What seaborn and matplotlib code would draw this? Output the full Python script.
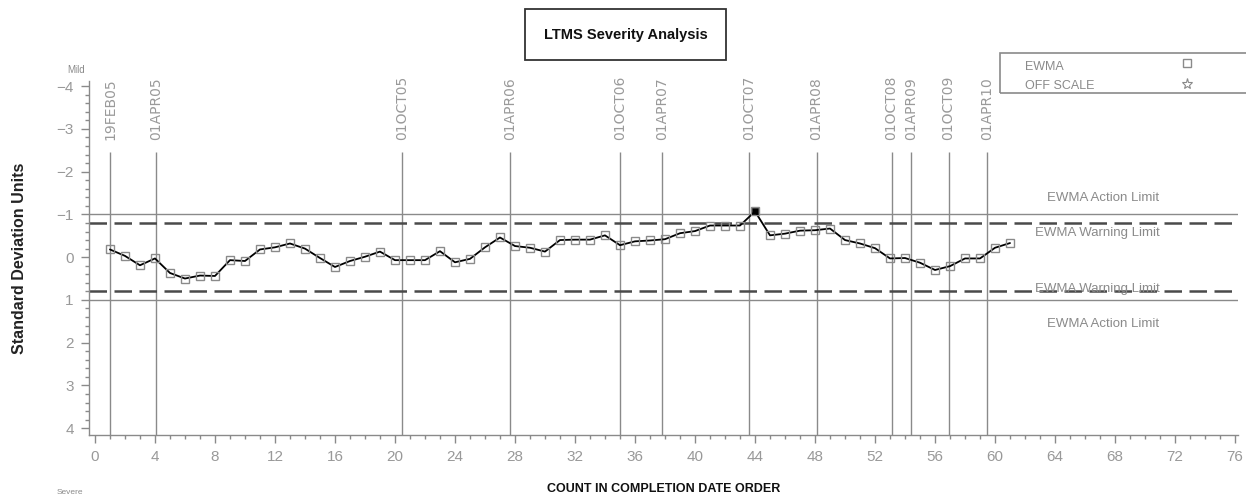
import numpy as np
import pandas as pd
import matplotlib
matplotlib.use('Agg')
import matplotlib.pyplot as plt
import seaborn as sns
from matplotlib.patches import Rectangle
from matplotlib.lines import Line2D
from matplotlib.ticker import MultipleLocator

# EWMA values per test, in completion-date order
count = list(range(1, 62))
ewma = [-0.18, -0.03, 0.19, 0.03, 0.37, 0.50, 0.43, 0.44, 0.07, 0.09,
        -0.18, -0.23, -0.32, -0.20, 0.02, 0.23, 0.09, -0.01, -0.13, 0.07,
        0.07, 0.07, -0.14, 0.12, 0.04, -0.23, -0.46, -0.26, -0.22, -0.13,
        -0.40, -0.41, -0.41, -0.51, -0.28, -0.37, -0.39, -0.42, -0.56, -0.61,
        -0.74, -0.74, -0.74, -1.07, -0.51, -0.55, -0.62, -0.63, -0.67, -0.40,
        -0.32, -0.21, 0.03, 0.02, 0.13, 0.30, 0.21, 0.03, 0.03, -0.22, -0.33]
off_scale = [44]  # points beyond the action limit

# date reference lines
date_labels = ['19FEB05', '01APR05', '01OCT05', '01APR06', '01OCT06', '01APR07',
               '01OCT07', '01APR08', '01OCT08', '01APR09', '01OCT09', '01APR10']
date_pos = [1.0, 4.1, 20.5, 27.7, 35.0, 37.8, 43.6, 48.1, 53.1, 54.4, 56.9, 59.45]

action_limit = 1.0
warning_limit = 0.79

narrow = ['Liberation Sans Narrow', 'Liberation Sans', 'DejaVu Sans']
gray = '#8a8a8a'

sns.set_theme(style='ticks')
plt.rcParams['font.family'] = narrow

fig = plt.figure(figsize=(12.46, 4.97), dpi=100)
ax = fig.add_axes([0.0714, 0.1247, 0.9222, 0.7123])

df = pd.DataFrame({'count': count, 'ewma': ewma})
sns.lineplot(data=df, x='count', y='ewma', ax=ax, color='black', lw=1.3,
             marker='s', markersize=6, markerfacecolor='none',
             markeredgecolor=gray, markeredgewidth=1, zorder=4)

off = df[df['count'].isin(off_scale)]
sns.scatterplot(data=off, x='count', y='ewma', ax=ax, marker='s', color='black',
                s=22, edgecolor='black', zorder=5)

# control limits
for sign in (-1, 1):
    ax.axhline(sign * action_limit, color=gray, lw=1, zorder=2)
    ax.axhline(sign * warning_limit, color='#4a4a4a', lw=1.8, dashes=(7, 3), zorder=2)

lim_kw = dict(color=gray, fontsize=9.5, ha='center', va='center')
ax.text(67.2, -1.38, 'EWMA Action Limit', **lim_kw)
ax.text(66.8, -0.56, 'EWMA Warning Limit', **lim_kw)
ax.text(66.8, 0.75, 'EWMA Warning Limit', **lim_kw)
ax.text(67.2, 1.57, 'EWMA Action Limit', **lim_kw)

# date markers
ax.vlines(date_pos, ymin=-2.45, ymax=4.2, color=gray, lw=1, zorder=1)
for pos, lab in zip(date_pos, date_labels):
    ax.text(pos, -2.75, lab, rotation=90, ha='center', va='bottom',
            color='#9a9a9a', fontsize=10, family='DejaVu Sans')

ax.set_xlim(-0.4, 76.2)
ax.set_ylim(4.16, -4.12)
ax.xaxis.set_major_locator(MultipleLocator(4))
ax.xaxis.set_minor_locator(MultipleLocator(1))
ax.yaxis.set_major_locator(MultipleLocator(1))
ax.yaxis.set_minor_locator(MultipleLocator(0.2))

sns.despine(ax=ax)
for side in ('left', 'bottom'):
    ax.spines[side].set_color(gray)
    ax.spines[side].set_linewidth(1)
ax.tick_params(which='major', length=6, width=1, color=gray, labelcolor='#999999',
               labelsize=11, pad=5)
ax.tick_params(which='minor', length=3, width=1, color=gray)

ax.set_xlabel('COUNT IN COMPLETION DATE ORDER', fontsize=9, fontweight='bold', color='#111111')
ax.xaxis.set_label_coords(0.5, -0.135)
ax.set_ylabel('Standard Deviation Units', fontsize=11.5, fontweight='bold', color='#222222')
ax.yaxis.set_label_coords(-0.054, 0.5)

fig.text(76 / 1246, 1 - 70 / 497, 'Mild', fontsize=7, color=gray, ha='center', va='center')
fig.text(70 / 1246, 0.003, 'Severe', fontsize=6, color=gray, ha='center', va='bottom')

# title box
fig.add_artist(Rectangle((0.4213, 0.879), 0.1613, 0.1026, transform=fig.transFigure,
                         fill=False, edgecolor='#333333', lw=1.3))
fig.text(0.502, 0.9296, 'LTMS Severity Analysis', fontsize=10.5, fontweight='bold',
         ha='center', va='center', color='#111111')

# legend box
fig.add_artist(Rectangle((0.8026, 0.8129), 0.21, 0.0805, transform=fig.transFigure,
                         fill=False, edgecolor=gray, lw=1.2))
fig.text(1025 / 1246, 1 - 67 / 497, 'EWMA', fontsize=9, color=gray, va='center')
fig.text(1025 / 1246, 1 - 86 / 497, 'OFF SCALE', fontsize=9, color=gray, va='center')
fig.add_artist(Line2D([1187 / 1246], [1 - 63 / 497], transform=fig.transFigure, marker='s',
                      ms=6, mfc='none', mec=gray, mew=1, ls='none'))
fig.add_artist(Line2D([1187 / 1246], [1 - 84 / 497], transform=fig.transFigure, marker='*',
                      ms=8, mfc='none', mec=gray, mew=0.8, ls='none'))

fig.savefig('out.png', dpi=100)
